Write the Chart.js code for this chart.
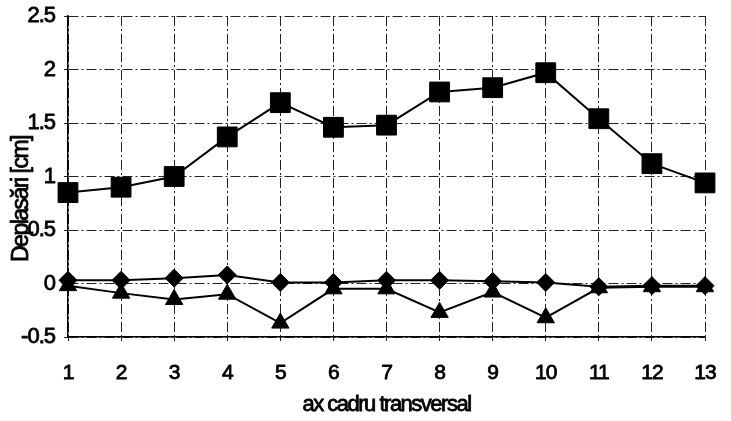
<!DOCTYPE html>
<html>
<head>
<meta charset="utf-8">
<script src="https://cdn.jsdelivr.net/npm/chart.js@4/dist/chart.umd.min.js"></script>
<style>
  html, body { margin: 0; padding: 0; background: #fff; }
  #wrap { width: 731px; height: 421px; }
</style>
</head>
<body>
<div id="wrap"><canvas id="deplChart"></canvas></div>
<script>
const axes = ['1', '2', '3', '4', '5', '6', '7', '8', '9', '10', '11', '12', '13'];
const seriesSquare = [0.85, 0.90, 1.00, 1.37, 1.69, 1.46, 1.48, 1.79, 1.83, 1.97, 1.54, 1.12, 0.94];
const seriesDiamond = [0.03, 0.03, 0.05, 0.08, 0.01, 0.01, 0.03, 0.03, 0.02, 0.01, -0.03, -0.02, -0.02];
const seriesTriangle = [-0.02, -0.09, -0.15, -0.10, -0.37, -0.05, -0.05, -0.27, -0.08, -0.32, -0.04, -0.03, -0.03];
const yTitle = 'Deplasări [cm]';
const xTitle = 'ax cadru transversal';

const FONT = '"Liberation Sans", Arial, sans-serif';

// tight text everywhere, like the old office chart
const tightText = {
    id: 'tightText',
    beforeDraw(chart) { chart.ctx.letterSpacing = '-1px'; }
};

function heavyText(c, text, x, y, size) {
    c.font = size + 'px ' + FONT;
    c.fillStyle = '#000';
    c.strokeStyle = '#000';
    c.lineWidth = 0.8;
    c.textAlign = 'center';
    c.textBaseline = 'middle';
    c.fillText(text, x, y);
    c.strokeText(text, x, y);
}

// axis titles: y one sits a bit below the plot middle, over the tick labels
const titlesPlugin = {
    id: 'axisTitles',
    afterDraw(chart) {
        const c = chart.ctx;
        const area = chart.chartArea;
        c.save();
        c.letterSpacing = '-1.5px';
        heavyText(c, xTitle, (area.left + area.right) / 2, 405, 22);
        c.translate(22, 199);
        c.rotate(-Math.PI / 2);
        heavyText(c, yTitle, 0, 0, 23);
        c.restore();
    }
};

const lineDs = (data, style, radius) => ({
    data: data,
    borderColor: '#000',
    backgroundColor: '#000',
    borderWidth: 2,
    pointStyle: style,
    pointRadius: radius,
    pointHoverRadius: radius,
    pointBorderWidth: 1,
    tension: 0,
    clip: false
});

const tickFont = (size) => ({
    color: '#000',
    textStrokeColor: '#000',
    textStrokeWidth: 0.8,
    font: { family: FONT, size: size }
});

new Chart(document.getElementById('deplChart'), {
    type: 'line',
    data: {
        labels: axes,
        datasets: [
            lineDs(seriesTriangle, 'triangle', 10),
            lineDs(seriesDiamond, 'rectRot', 9),
            lineDs(seriesSquare, 'rect', 14)
        ]
    },
    plugins: [tightText, titlesPlugin],
    options: {
        responsive: true,
        maintainAspectRatio: false,
        animation: false,
        layout: { padding: { top: 16, right: 26, left: 0, bottom: 0 } },
        plugins: {
            legend: { display: false },
            tooltip: { enabled: false }
        },
        scales: {
            x: {
                offset: false,
                grid: { color: '#222', lineWidth: 1, drawTicks: true, tickLength: 4 },
                border: { display: true, color: '#000', width: 1.5, dash: [10, 3, 2, 3] },
                ticks: Object.assign(tickFont(21), { padding: 20, maxRotation: 0 }),
                afterFit: (s) => { s.height = 84; s.paddingLeft = 0; s.paddingRight = 0; }
            },
            y: {
                min: -0.5,
                max: 2.5,
                grid: { color: '#222', lineWidth: 1, drawTicks: true, tickLength: 4 },
                border: { display: true, color: '#000', width: 1.5, dash: [10, 3, 2, 3] },
                ticks: Object.assign(tickFont(22), {
                    stepSize: 0.5,
                    padding: 9,
                    callback: (v) => String(Math.round(v * 10) / 10)
                }),
                afterFit: (s) => { s.width = 68; s.paddingTop = 0; s.paddingBottom = 0; }
            }
        }
    }
});
</script>
</body>
</html>
